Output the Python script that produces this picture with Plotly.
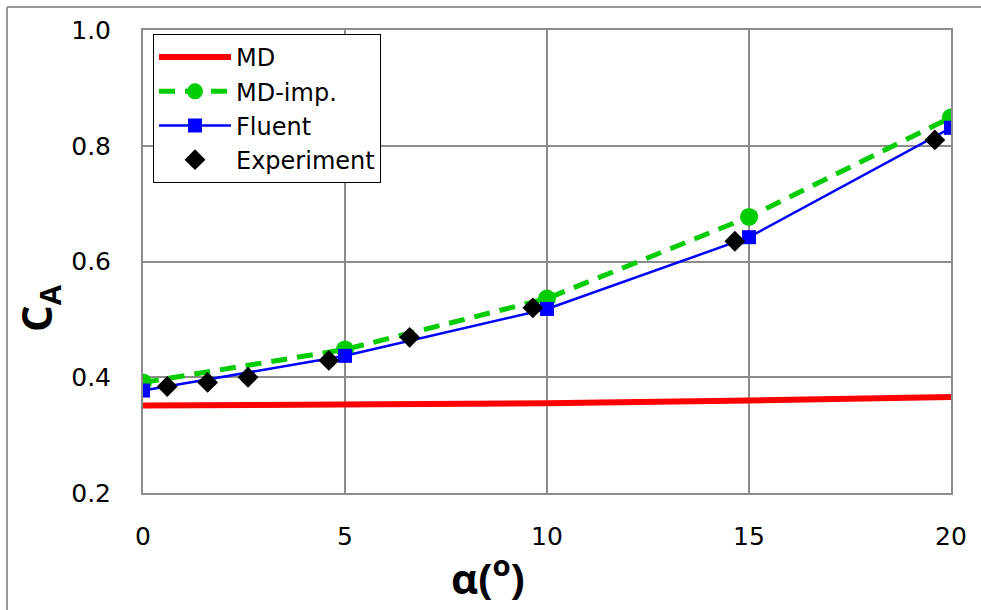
import plotly.graph_objects as go

alpha = [0, 5, 10, 15, 20]
md = [0.351, 0.353, 0.355, 0.360, 0.366]
md_imp = [0.391, 0.448, 0.536, 0.677, 0.849]
fluent = [0.377, 0.437, 0.518, 0.642, 0.831]
exp_alpha = [0.6, 1.6, 2.6, 4.6, 6.6, 9.65, 14.65, 19.6]
exp_ca = [0.384, 0.391, 0.400, 0.429, 0.469, 0.520, 0.635, 0.810]
x_ticks = [0, 5, 10, 15, 20]
y_ticks = [0.2, 0.4, 0.6, 0.8, 1.0]
y_ticklabels = ["0.2", "0.4", "0.6", "0.8", "1.0"]

FONT = "DejaVu Sans"
TITLE_FONT = "Open Sans"
GRID = "#8c8c8c"

fig = go.Figure()
fig.add_trace(go.Scatter(x=alpha, y=md, mode="lines", name="MD",
                         line=dict(color="#ff0000", width=6)))
fig.add_trace(go.Scatter(x=alpha, y=md_imp, mode="lines+markers", name="MD-imp.",
                         line=dict(color="#00cc00", width=5, dash="16px,10px"),
                         marker=dict(symbol="circle", size=18, color="#00cc00")))
fig.add_trace(go.Scatter(x=alpha, y=fluent, mode="lines+markers", name="Fluent",
                         line=dict(color="#0000ff", width=2.5),
                         marker=dict(symbol="square", size=14, color="#0000ff")))
fig.add_trace(go.Scatter(x=exp_alpha, y=exp_ca, mode="markers", name="Experiment",
                         marker=dict(symbol="diamond", size=16, color="#000000")))

L, R, T, B = 143, 30, 30, 117
W, H = 981, 610
pw, ph = W - L - R, H - T - B

def px_x(px):
    return (px - L) / pw

def px_y(py):
    return (H - B - py) / ph

fig.update_layout(
    width=W, height=H,
    margin=dict(l=L, r=R, t=T, b=B, pad=0, autoexpand=False),
    paper_bgcolor="white", plot_bgcolor="white",
    font=dict(family=FONT, color="black", size=25),
    showlegend=True,
    legend=dict(x=px_x(153), y=px_y(34), xanchor="left", yanchor="top",
                bgcolor="white", bordercolor="black", borderwidth=1,
                font=dict(family=FONT, size=24, color="black"),
                itemwidth=72, tracegroupgap=0),
    annotations=[
        dict(text="<b>α(<sup>o</sup>)</b>", xref="paper", yref="paper",
             x=px_x(488), y=px_y(575), xanchor="center", yanchor="middle",
             showarrow=False, font=dict(family=TITLE_FONT, size=42, color="black")),
        dict(text="<b>C<sub>A</sub></b>", xref="paper", yref="paper",
             x=px_x(38), y=px_y(308), xanchor="center", yanchor="middle",
             textangle=-90, showarrow=False,
             font=dict(family=TITLE_FONT, size=42, color="black")),
    ],
    shapes=[
        dict(type="line", xref="paper", yref="paper",
             x0=px_x(7), x1=px_x(7), y0=px_y(7), y1=px_y(615),
             line=dict(color="#999999", width=2)),
        dict(type="line", xref="paper", yref="paper",
             x0=px_x(7), x1=px_x(990), y0=px_y(7), y1=px_y(7),
             line=dict(color="#999999", width=2)),
    ],
)
fig.update_xaxes(range=[0, 20], tickmode="array", tickvals=x_ticks,
                 ticktext=[str(v) for v in x_ticks],
                 showgrid=True, gridcolor=GRID, gridwidth=2,
                 showline=True, linecolor=GRID, linewidth=2, mirror=True,
                 zeroline=False, ticks="outside", ticklen=20,
                 tickcolor="rgba(0,0,0,0)",
                 tickfont=dict(size=25, family=FONT, color="black"))
fig.update_yaxes(range=[0.2, 1.0], tickmode="array", tickvals=y_ticks,
                 ticktext=y_ticklabels,
                 showgrid=True, gridcolor=GRID, gridwidth=2,
                 showline=True, linecolor=GRID, linewidth=2, mirror=True,
                 zeroline=False, ticks="outside", ticklen=25,
                 tickcolor="rgba(0,0,0,0)",
                 tickfont=dict(size=25, family=FONT, color="black"))

fig.write_html("out.html")
